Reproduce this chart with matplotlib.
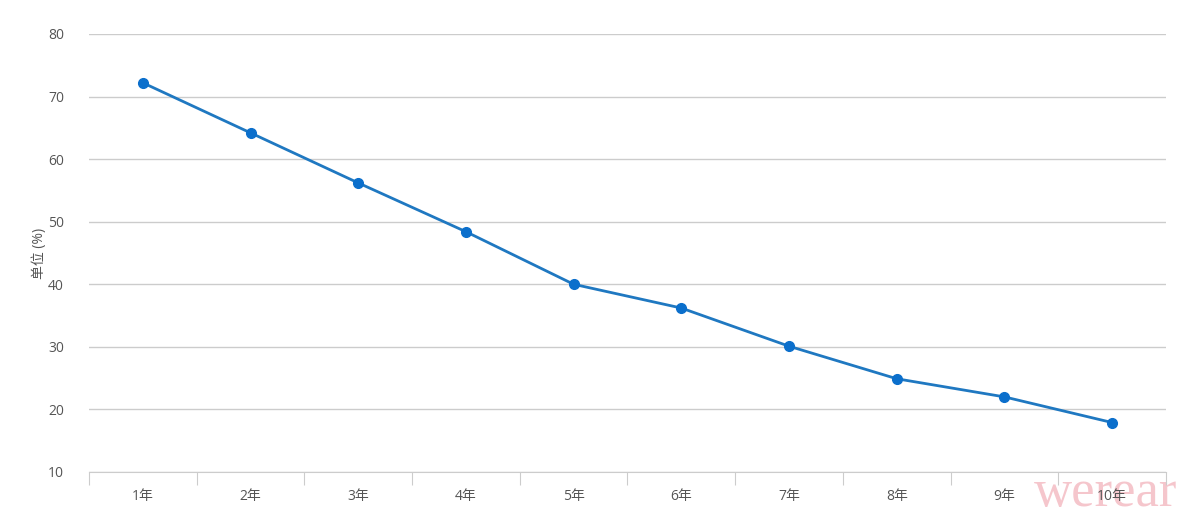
import matplotlib
matplotlib.use("Agg")
import matplotlib.pyplot as plt
import numpy as np

plt.rcParams["font.family"] = ["Open Sans", "Noto Sans CJK SC", "DejaVu Sans"]

categories = ["1年", "2年", "3年", "4年", "5年", "6年", "7年", "8年", "9年", "10年"]
values = [72.2, 64.2, 56.2, 48.4, 40.0, 36.2, 30.1, 24.9, 22.0, 17.9]
y_ticks = [10, 20, 30, 40, 50, 60, 70, 80]

fig = plt.figure(figsize=(11.99, 5.22), dpi=100)
ax = fig.add_axes([0.0742, 0.0958, 0.8983, 0.8391])
ax.patch.set_alpha(0)

x = np.arange(len(categories))
ax.plot(x, values, color="#1f78c1", linewidth=2, marker="o", markersize=7,
        markerfacecolor="#0b6fcc", markeredgecolor="#0b6fcc", zorder=3)

ax.set_xlim(-0.5, len(categories) - 0.5)
ax.set_ylim(10, 80)
ax.set_yticks(y_ticks)
ax.grid(axis="y", color="#cccccc", linewidth=1)
ax.set_axisbelow(True)

for side in ["top", "right", "left"]:
    ax.spines[side].set_visible(False)
ax.spines["bottom"].set_color("#cccccc")

# band boundaries as major ticks, category names as minor tick labels
ax.set_xticks(np.arange(-0.5, len(categories)), minor=False)
ax.set_xticklabels([])
ax.set_xticks(x, minor=True)
ax.set_xticklabels(categories, minor=True)
ax.tick_params(axis="x", which="major", length=9, color="#cccccc")
ax.tick_params(axis="x", which="minor", length=0, pad=12, labelsize=10, labelcolor="#555555")
ax.tick_params(axis="y", length=0, pad=18, labelsize=10, labelcolor="#555555")

ax.set_ylabel("单位 (%)", fontsize=10, color="#555555", labelpad=1)

# watermark, behind the axes
fig.text(0.922, 0.056, "werear", fontsize=38, color="#f4bcc4",
         family="Liberation Serif", ha="center", va="center", alpha=0.85, zorder=-1)

fig.savefig("out.png", dpi=100)
